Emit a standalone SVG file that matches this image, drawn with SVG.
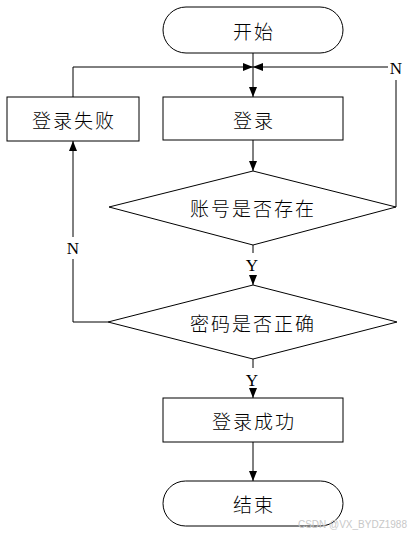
<svg xmlns="http://www.w3.org/2000/svg" width="410" height="537" viewBox="0 0 410 537">
<style>
.shape{fill:#fff;stroke:#000;stroke-width:1}
.line{fill:none;stroke:#000;stroke-width:1}
.cn{font-family:"Noto Sans CJK SC","Noto Sans CJK JP",sans-serif;font-size:19px;font-weight:300;fill:#000;text-anchor:middle;dominant-baseline:central;letter-spacing:2px}
.lbl{font-family:"Liberation Serif","DejaVu Serif",serif;font-size:17px;fill:#000;text-anchor:middle;dominant-baseline:central}
.wm{font-family:"Liberation Sans",Arial,sans-serif;font-size:10px;fill:#c8c8c8;text-anchor:end}
</style>
<defs>
<marker id="arr" markerUnits="userSpaceOnUse" markerWidth="10" markerHeight="10" viewBox="0 0 10 10" refX="10" refY="5" orient="auto">
<path d="M0,1 L10,5 L0,9 Z" fill="#000"/>
</marker>
</defs>
<rect width="410" height="537" fill="#fff"/>
<g id="connectors">
<path class="line" d="M253,53 V97" marker-end="url(#arr)"/>
<path class="line" d="M73,97 V67 H253" marker-end="url(#arr)"/>
<path class="line" d="M396,207 V80"/>
<path class="line" d="M388,67 H253" marker-end="url(#arr)"/>
<text class="lbl" x="396" y="68">N</text>
<path class="line" d="M253,245 V253"/>
<path class="line" d="M253,140 V171" marker-end="url(#arr)"/>
<text class="lbl" x="252" y="265">Y</text>
<path class="line" d="M253,276 V285" marker-end="url(#arr)"/>
<path class="line" d="M108,322 H73 V259"/>
<text class="lbl" x="73" y="248">N</text>
<path class="line" d="M73,237 V141" marker-end="url(#arr)"/>
<path class="line" d="M253,359 V368"/>
<text class="lbl" x="252" y="380">Y</text>
<path class="line" d="M253,390 V398" marker-end="url(#arr)"/>
<path class="line" d="M253,442 V481" marker-end="url(#arr)"/>
</g>
<g id="start">
<rect class="shape" x="163" y="7" width="180" height="46" rx="23" ry="23"/>
<text class="cn" x="254" y="30">开始</text>
</g>
<g id="login">
<rect class="shape" x="163" y="97" width="180" height="43"/>
<text class="cn" x="254" y="119">登录</text>
</g>
<g id="login-fail">
<rect class="shape" x="7" y="97" width="132" height="44"/>
<text class="cn" x="74" y="119">登录失败</text>
</g>
<g id="check-account">
<polygon class="shape" points="253,171 396,207 253,245 109,207"/>
<text class="cn" x="253" y="207">账号是否存在</text>
</g>
<g id="check-password">
<polygon class="shape" points="253,285 397,322 253,359 108,322"/>
<text class="cn" x="253" y="322">密码是否正确</text>
</g>
<g id="login-success">
<rect class="shape" x="163" y="398" width="180" height="44"/>
<text class="cn" x="254" y="420">登录成功</text>
</g>
<g id="end">
<rect class="shape" x="163" y="481" width="180" height="45" rx="22.5" ry="22.5"/>
<text class="cn" x="254" y="503">结束</text>
</g>
<text class="wm" x="407" y="528">CSDN @VX_BYDZ1988</text>
</svg>
